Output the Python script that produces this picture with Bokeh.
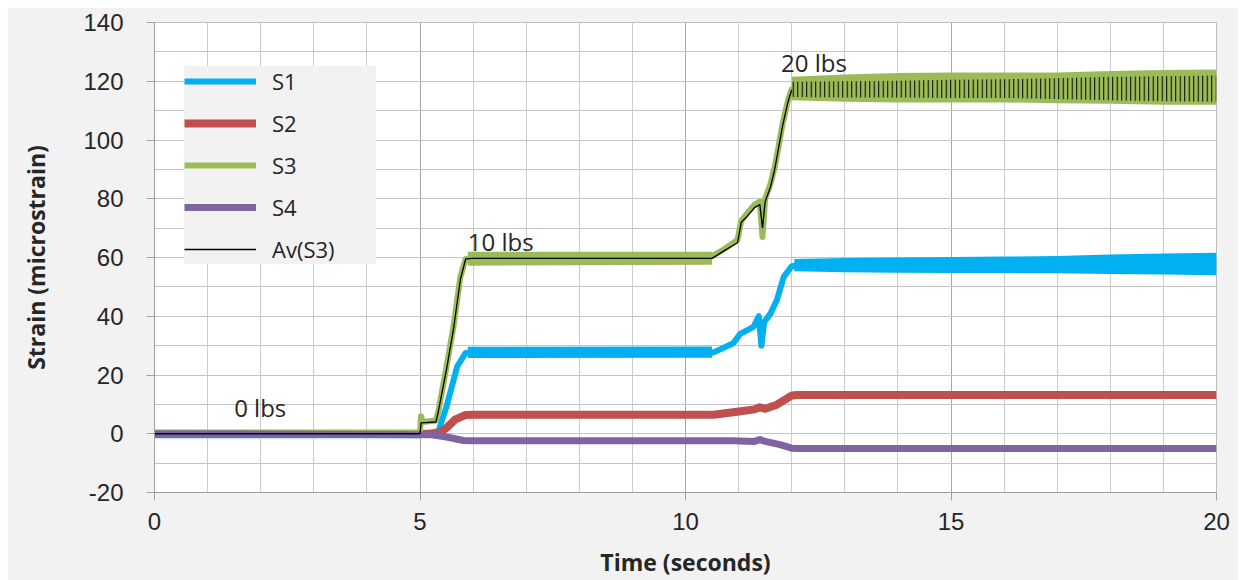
from bokeh.plotting import figure
from bokeh.models import (SingleIntervalTicker, Legend, LegendItem, Label, Range1d,
                          PrintfTickFormatter)
from bokeh.embed import file_html
from bokeh.resources import INLINE

# ---------------- data ----------------
# S1 (blue)
s1_t = [0, 5.0, 5.35, 5.5, 5.7, 5.86, 6.0, 8, 10, 10.53, 10.9, 11.03, 11.28, 11.38, 11.43, 11.48, 11.6, 11.72, 11.85, 12.0, 12.1, 14, 16, 18, 20]
s1_v = [-0.5, -0.5, 1, 9.3, 22.9, 27.5, 27.7, 27.7, 27.7, 27.7, 30.8, 34, 36.4, 40, 30, 38, 40.9, 45.5, 53.4, 57, 57.3, 57.5, 57.5, 57.7, 57.8]
s1_band1_t = [5.9, 10.5]
s1_band1_lo = [25.8, 25.9]
s1_band1_hi = [29.6, 29.7]
s1_band2_t = [12.05, 13, 14, 15, 16, 17, 18, 19, 20]
s1_band2_lo = [55.3, 55.0, 54.8, 54.7, 54.7, 54.6, 54.4, 54.2, 54.0]
s1_band2_hi = [59.5, 59.8, 60.0, 60.2, 60.3, 60.5, 61.0, 61.4, 61.6]

# S2 (red)
s2_t = [0, 5.35, 5.5, 5.66, 5.86, 6.0, 10.53, 10.97, 11.3, 11.4, 11.5, 11.72, 12.0, 12.1, 20]
s2_v = [0, 0, 2, 4.8, 6.4, 6.5, 6.5, 7.5, 8.3, 9.0, 8.5, 9.9, 13.0, 13.2, 13.2]

# S3 (green)
s3_t = [0, 5.0, 5.02, 5.05, 5.3, 5.35, 5.5, 5.63, 5.76, 5.86, 6.0, 7, 8, 9, 10, 10.5, 10.7, 10.98, 11.05, 11.16, 11.3, 11.4, 11.45, 11.5, 11.6, 11.68, 11.74, 11.83, 11.93, 12.0, 12.1, 13, 14, 15, 16, 17, 18, 19, 20]
s3_v = [0.3, 0.3, 6, 4, 4.5, 8, 22.9, 36.4, 53.4, 59.5, 59.8, 59.8, 59.7, 59.8, 59.8, 60.5, 62.5, 66, 72.5, 75, 78, 79, 67, 80, 85, 90.8, 96.5, 105.6, 113.5, 117.3, 117.5, 117.5, 117.6, 117.6, 117.6, 117.7, 117.8, 117.8, 117.8]
s3_band1_t = [5.9, 10.5]
s3_band1_lo = [57.2, 57.5]
s3_band1_hi = [62.0, 62.0]
s3_band2_t = [12.0, 13, 14, 15, 16, 17, 18, 19, 20]
s3_band2_lo = [113.5, 113.0, 112.8, 112.8, 112.8, 112.5, 112.3, 112.0, 112.0]
s3_band2_hi = [121.5, 122.3, 122.8, 123.0, 123.0, 123.0, 123.5, 123.8, 124.0]

# S4 (purple)
s4_t = [0, 5.19, 5.5, 5.82, 6.0, 10.9, 11.3, 11.4, 11.5, 11.78, 12.0, 12.1, 20]
s4_v = [0, -0.3, -1.1, -2.3, -2.4, -2.4, -2.6, -2.0, -2.6, -3.7, -4.9, -5.0, -5.0]

# Av(S3) (black)
av_t = [0, 5.0, 5.02, 5.3, 5.35, 5.5, 5.63, 5.76, 5.86, 6.0, 10.5, 10.7, 10.98, 11.05, 11.16, 11.3, 11.4, 11.45, 11.5, 11.6, 11.68, 11.74, 11.83, 11.93, 12.0]
av_v = [0, 0, 3.7, 4, 8, 22, 35.5, 52.5, 59.5, 59.7, 59.7, 62, 65, 72, 74, 77, 78, 70, 79, 84, 90, 96, 105, 113, 117]
av_band_t = [12.0, 13, 14, 15, 16, 17, 18, 19, 20]
av_band_lo = [114.6, 114.5, 114.5, 114.3, 114.3, 114.0, 113.5, 113.2, 113.0]
av_band_hi = [119.8, 120.0, 120.2, 120.5, 120.7, 121.0, 121.5, 121.7, 122.0]

ann_text = ["0 lbs", "10 lbs", "20 lbs"]
ann_x = [1.5, 5.9, 11.8]
ann_y = [8.8, 65.5, 126.4]

C1, C2, C3, C4 = "#00B0F0", "#C0504D", "#9BBB59", "#8064A2"

# ---------------- figure ----------------
p = figure(width=1231, height=573, x_range=Range1d(0, 20), y_range=Range1d(-20, 140),
           output_backend="svg", toolbar_location=None,
           min_border_left=147, min_border_right=22, min_border_top=15, min_border_bottom=87,
           border_fill_color="#f2f2f2", background_fill_color="white")
p.styles = {"margin-left": "7px", "margin-top": "7px"}
p.outline_line_color = "#bfbfbf"

p.xaxis.ticker = SingleIntervalTicker(interval=5, num_minor_ticks=5)
p.yaxis.ticker = SingleIntervalTicker(interval=20, num_minor_ticks=2)
p.yaxis.formatter = PrintfTickFormatter(format="%d")
p.xgrid.grid_line_color = "#a6a6a6"
p.xgrid.minor_grid_line_color = "#cccccc"
p.ygrid.grid_line_color = "#c4c4c4"
p.ygrid.minor_grid_line_color = "#c4c4c4"

for ax in (p.xaxis, p.yaxis):
    ax.axis_line_color = "#a0a0a0"
    ax.major_tick_line_color = "#a0a0a0"
    ax.major_tick_out = 8
    ax.major_tick_in = 0
    ax.minor_tick_line_color = None
    ax.major_label_text_font = "Liberation Sans"
    ax.major_label_text_font_size = "24px"
    ax.major_label_text_color = "#262626"
    ax.axis_label_text_font = "Open Sans"
    ax.axis_label_text_font_size = "23px"
    ax.axis_label_text_font_style = "bold"
    ax.axis_label_text_color = "#262626"
p.xaxis.axis_label = "Time (seconds)"
p.yaxis.axis_label = "Strain (microstrain)"
p.xaxis.major_label_standoff = 12
p.xaxis.axis_label_standoff = 13
p.yaxis.major_label_standoff = 23
p.yaxis.axis_label_standoff = 28

# bands (oscillation envelopes)
p.varea(x=s1_band1_t, y1=s1_band1_lo, y2=s1_band1_hi, fill_color=C1)
p.varea(x=s1_band2_t, y1=s1_band2_lo, y2=s1_band2_hi, fill_color=C1)
p.varea(x=s3_band1_t, y1=s3_band1_lo, y2=s3_band1_hi, fill_color=C3)
p.varea(x=s3_band2_t, y1=s3_band2_lo, y2=s3_band2_hi, fill_color=C3)

r1 = p.line(s1_t, s1_v, line_color=C1, line_width=6, line_join="round")
r2 = p.line(s2_t, s2_v, line_color=C2, line_width=8, line_join="round")
r3 = p.line(s3_t, s3_v, line_color=C3, line_width=6, line_join="round")
r4 = p.line(s4_t, s4_v, line_color=C4, line_width=7, line_join="round")

p.varea(x=av_band_t, y1=av_band_lo, y2=av_band_hi, fill_alpha=0,
        hatch_pattern="vertical_line", hatch_color="black", hatch_scale=4.5, hatch_weight=1)
ra = p.line(av_t, av_v, line_color="black", line_width=1.3)

legend = Legend(items=[LegendItem(label="S1", renderers=[r1]),
                       LegendItem(label="S2", renderers=[r2]),
                       LegendItem(label="S3", renderers=[r3]),
                       LegendItem(label="S4", renderers=[r4]),
                       LegendItem(label="Av(S3)", renderers=[ra])],
                location=(30, 228), padding=4, spacing=12, margin=0,
                glyph_width=72, glyph_height=30, label_height=30, label_width=104,
                label_standoff=16, background_fill_color="#f2f2f2", background_fill_alpha=1,
                border_line_color=None, label_text_font="Open Sans",
                label_text_font_size="22px", label_text_color="#262626")
p.add_layout(legend)

for t, x, y in zip(ann_text, ann_x, ann_y):
    p.add_layout(Label(x=x, y=y, text=t, text_baseline="middle", text_font="Open Sans",
                       text_font_size="24px", text_color="#262626"))

open("out.html", "w").write(file_html(p, INLINE))
